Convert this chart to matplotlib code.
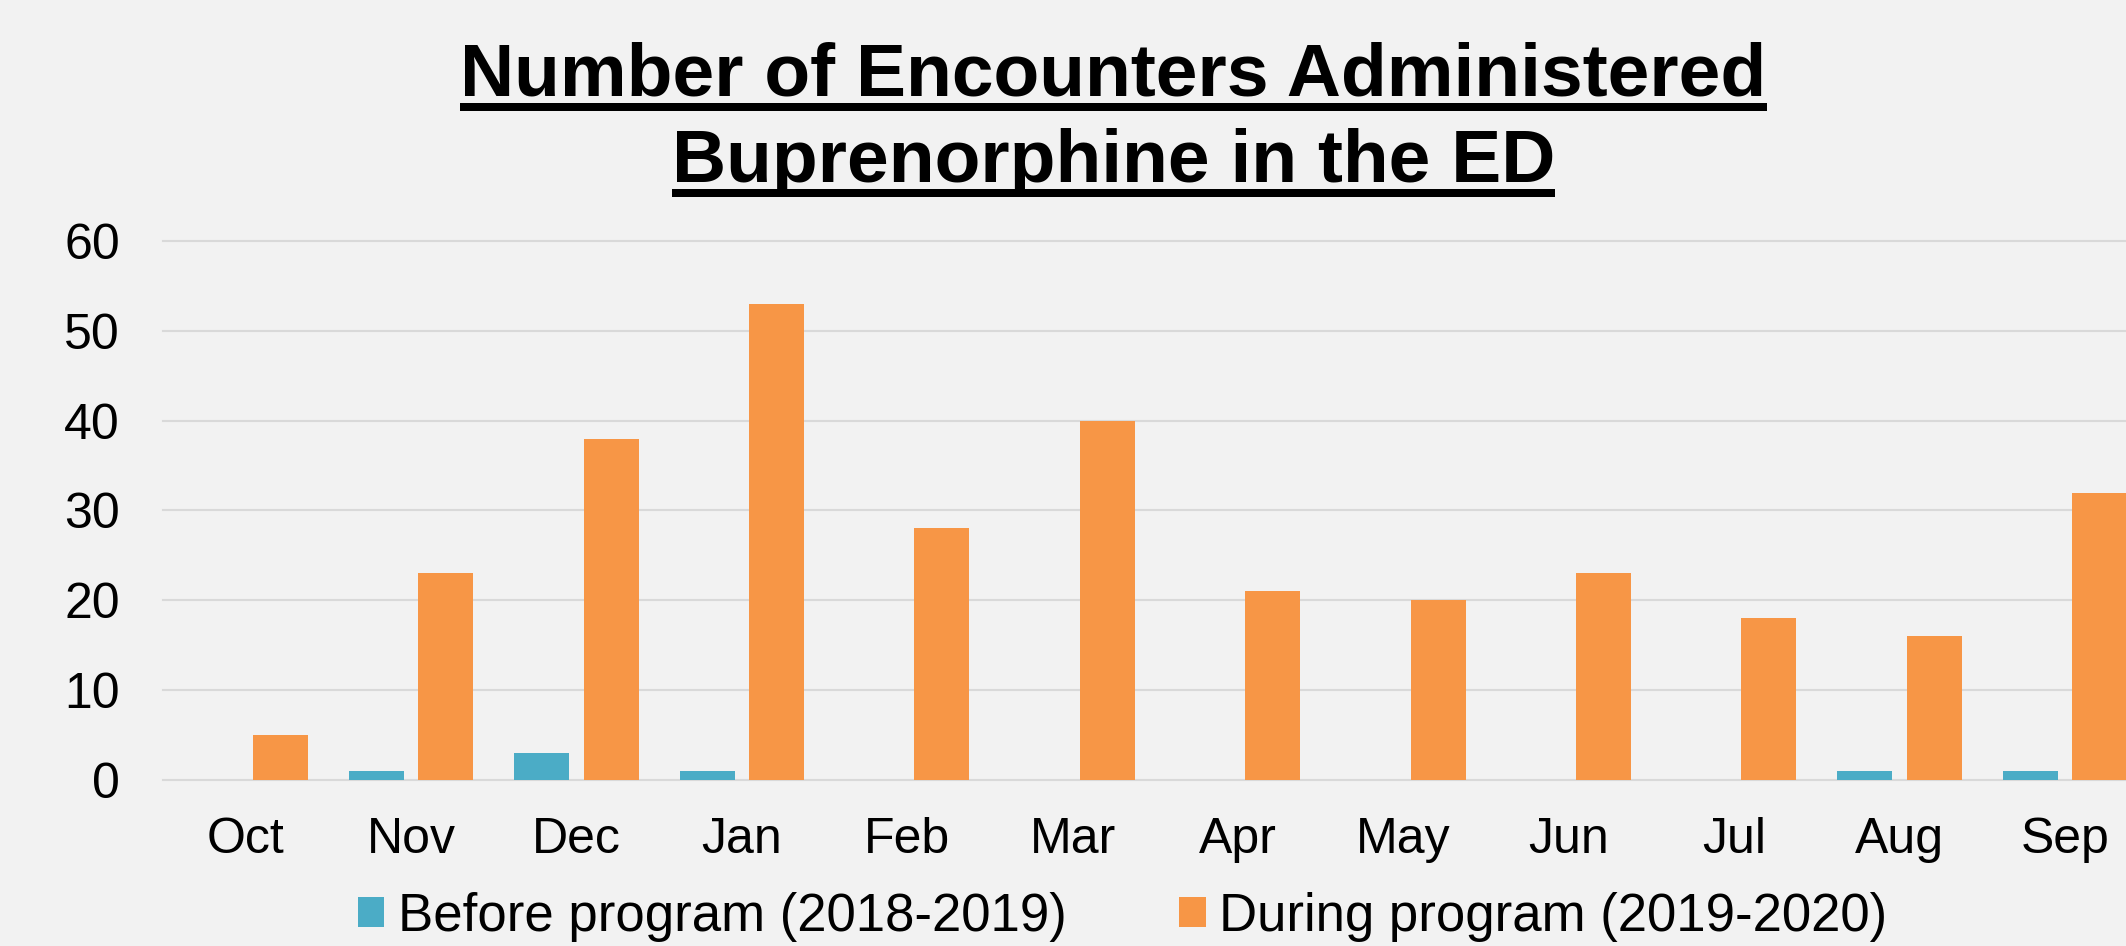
import matplotlib
matplotlib.use("Agg")
import matplotlib.pyplot as plt
import numpy as np
from matplotlib.lines import Line2D

# data
months = ["Oct", "Nov", "Dec", "Jan", "Feb", "Mar", "Apr", "May", "Jun", "Jul", "Aug", "Sep"]
before = [0, 1, 3, 1, 0, 0, 0, 0, 0, 0, 1, 1]
during = [5, 23, 38, 53, 28, 40, 21, 20, 23, 18, 16, 32]
series_names = ["Before program (2018-2019)", "During program (2019-2020)"]
title_lines = ["Number of Encounters Administered", "Buprenorphine in the ED"]

BG = "#f2f2f2"
TEAL = "#4bacc6"
ORANGE = "#f79646"
GRID = "#d9d9d9"

plt.rcParams['font.family'] = ['Liberation Sans', 'DejaVu Sans']

W, H = 2126, 946
fig = plt.figure(figsize=(W / 100, H / 100), dpi=100, facecolor=BG)
ax = fig.add_axes([163 / W, 1 - 780.4 / H, 1 - 163 / W, (780.4 - 240.6) / H])
ax.set_facecolor(BG)

x = np.arange(len(months))
ax.bar(x - 0.21, before, width=0.333, color=TEAL, label=series_names[0], zorder=3)
ax.bar(x + 0.21, during, width=0.333, color=ORANGE, label=series_names[1], zorder=3)

ax.set_xlim(-0.5, 11.37)
ax.set_ylim(0, 60)
ax.set_yticks(range(0, 61, 10))
ax.set_xticks(x)
ax.set_xticklabels(months)
ax.grid(axis='y', color=GRID, lw=1.5, zorder=0)
ax.set_axisbelow(True)
for gl in ax.get_ygridlines():
    gl.set_clip_on(False)
for s in ax.spines.values():
    s.set_visible(False)
ax.tick_params(length=0, labelsize=36)
ax.tick_params(axis='y', pad=31)
ax.tick_params(axis='x', pad=26)

fig.legend(loc='center', bbox_to_anchor=(0.528, 0.031), ncol=2, frameon=False,
           fontsize=38, handlelength=0.51, handleheight=0.51,
           handletextpad=0.25, columnspacing=2.14, borderpad=0, borderaxespad=0)

# two-line underlined title
cx = 1113.5 / W
t1 = fig.text(cx, 1 - 96 / H, title_lines[0], ha='center', va='baseline',
              fontsize=54, fontweight='bold')
t2 = fig.text(cx, 1 - 182 / H, title_lines[1], ha='center', va='baseline',
              fontsize=54, fontweight='bold')

fig.canvas.draw()
r = fig.canvas.get_renderer()
inv = fig.transFigure.inverted()
for t in (t1, t2):
    bb = t.get_window_extent(r)
    yb = t.get_position()[1] - 11 / H
    x0 = inv.transform((bb.x0, 0))[0]
    x1 = inv.transform((bb.x1, 0))[0]
    fig.add_artist(Line2D([x0, x1], [yb, yb], transform=fig.transFigure,
                          color='black', lw=5.76, solid_capstyle='butt'))

fig.savefig("out.png", dpi=100, facecolor=fig.get_facecolor())
